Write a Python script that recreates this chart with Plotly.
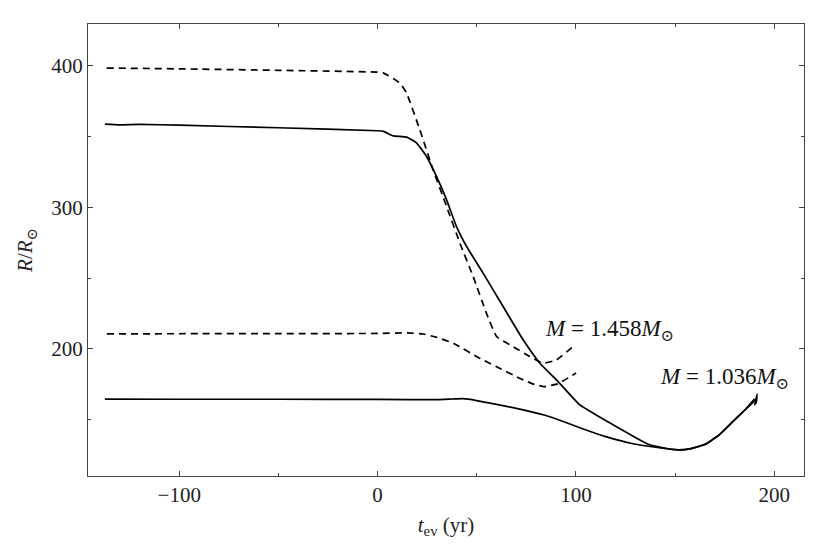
import plotly.graph_objects as go

# M = 1.036 Msun model (solid lines)
t_solid_a = [-137.5, -130, -120, -100, -50, 0, 3, 7.9, 14.6, 19.7, 24.7, 29.7, 34.8, 39.8, 44.9,
             53.2, 63.3, 73.4, 81.8, 90.2, 101.8, 110, 119.6, 128, 136.5, 145, 151.7, 158,
             165.2, 172, 178.7, 185, 189.5, 191.3, 190.8, 191.4, 190.2, 191.3]
r_solid_a = [358.8, 358.3, 358.6, 358.0, 356.2, 354.1, 353.6, 350.5, 349.6, 345.4, 335.9, 321.8,
             305.3, 286.4, 272.3, 253.5, 229.9, 206.4, 189.9, 178.1, 160.6, 153.5, 145.7, 139,
             132.6, 129.8, 128.6, 129.5, 132.6, 139, 148.1, 156.5, 162.5, 165.9, 161.5, 168,
             160.5, 166.5]

t_solid_b = [-137.5, -100, -50, 0, 30, 38, 43, 50, 60, 70, 84.0, 95, 103, 115, 128.8, 142,
             151.7, 158, 165.2, 172, 178.7, 185, 190]
r_solid_b = [164.5, 164.4, 164.4, 164.3, 164.2, 164.6, 164.8, 163.5, 160.8, 158.0, 153.3, 148.0,
             143.8, 138.0, 133.0, 130.2, 128.6, 129.5, 132.6, 139, 148.1, 156.5, 164.5]

# M = 1.458 Msun model (dashed lines)
t_dash_a = [-136.6, -100, -50, 0, 2.8, 11.2, 14.6, 21.3, 28.0, 34.8, 41.5, 48.2, 54.9, 60.0,
            68.3, 76.8, 83.5, 90.2, 98.6, 99.9]
r_dash_a = [398.4, 397.8, 396.8, 395.5, 395.0, 387.8, 380.7, 354.8, 326.5, 300.6, 274.7, 251.1,
            225.2, 208.7, 201.6, 194.6, 189.9, 192.2, 201.6, 202.8]

t_dash_b = [-136.5, -100, -50, 0, 15, 23.1, 29.9, 38.4, 51.9, 62.0, 72.2, 79.0, 84.0, 90.8, 100.1]
r_dash_b = [210.6, 210.7, 210.8, 210.9, 211.3, 210.5, 208.1, 203.8, 193.1, 186.0, 178.9, 174.9,
            173.4, 175.3, 182.9]

labels = ["<i>M</i> = 1.458<i>M</i><sub>⊙</sub>",
          "<i>M</i> = 1.036<i>M</i><sub>⊙</sub>"]
label_t = [83.3, 141.3]
label_r = [213.4, 179.5]

fig = go.Figure()
for t, r, dash in [(t_solid_a, r_solid_a, "solid"), (t_solid_b, r_solid_b, "solid"),
                   (t_dash_a, r_dash_a, "7px,5px"), (t_dash_b, r_dash_b, "7px,5px")]:
    fig.add_trace(go.Scatter(x=t, y=r, mode="lines",
                             line=dict(color="black", width=1.7, dash=dash, shape="spline",
                                       smoothing=0.4),
                             showlegend=False))

for txt, tx, ry in zip(labels, label_t, label_r):
    fig.add_annotation(x=tx, y=ry, text=txt, showarrow=False, xanchor="left", yanchor="middle",
                       font=dict(size=23, color="#111"))

axis_style = dict(showline=True, linecolor="#444", linewidth=1.3, mirror="allticks",
                  ticks="inside", ticklen=5, tickcolor="#444", showgrid=False, zeroline=False,
                  tickfont=dict(size=21, color="#222"),
                  minor=dict(ticks="inside", ticklen=3, tickcolor="#444", dtick=50))

fig.update_xaxes(range=[-146, 215], dtick=100, tick0=0,
                 title=dict(text="<i>t</i><sub>ev</sub> (yr)", font=dict(size=21), standoff=10),
                 **axis_style)
fig.update_yaxes(range=[110.2, 429.5], dtick=100, tick0=0,
                 title=dict(text="<i>R</i>/<i>R</i><sub>⊙</sub>", font=dict(size=21), standoff=12),
                 **axis_style)

fig.update_layout(width=814, height=538, plot_bgcolor="white", paper_bgcolor="white",
                  font=dict(family="Liberation Serif, DejaVu Serif, serif", color="#222"),
                  margin=dict(l=80, r=18, t=16, b=70))

fig.write_html("out.html")
